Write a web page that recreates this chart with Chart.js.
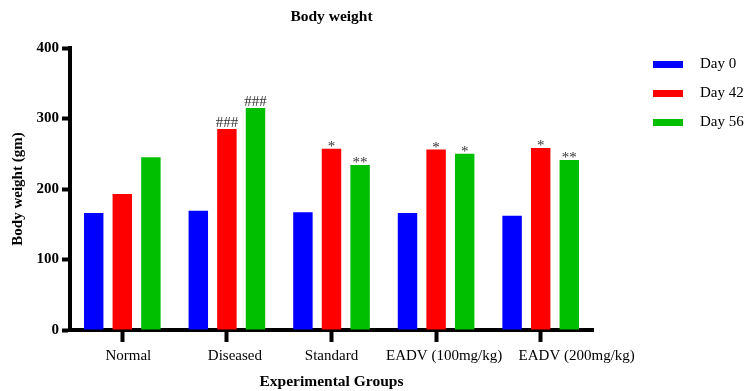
<!DOCTYPE html>
<html>
<head>
<meta charset="utf-8">
<script src="https://cdn.jsdelivr.net/npm/chart.js@4.4.1/dist/chart.umd.min.js"></script>
<style>
  html, body { margin: 0; padding: 0; background: #fff; }
  #wrap { width: 745px; height: 391px; position: relative; }
</style>
</head>
<body>
<div id="wrap"><canvas id="bwChart"></canvas></div>
<script>
// data
const groups = ["Normal", "Diseased", "Standard", "EADV (100mg/kg)", "EADV (200mg/kg)"];
const seriesNames = ["Day 0", "Day 42", "Day 56"];
const day0 = [166, 169, 167, 166, 162];
const day42 = [193, 285, 257, 256, 258];
const day56 = [245, 315, 234, 250, 241];
const yTicks = [0, 100, 200, 300, 400];
// significance marks, per series, per group
const marks = [
  ["", "", "", "", ""],
  ["", "###", "*", "*", "*"],
  ["", "###", "**", "*", "**"],
];
const colors = ["#0000ff", "#ff0000", "#00bf00"];

const serif = "'Liberation Serif', 'Times New Roman', serif";
// the original's group labels are not quite centred under their ticks
const labelShift = [6, 8, 0, 8, 36];

// title over the plot area
const titlePlugin = {
  id: "plotTitle",
  afterDraw(chart) {
    const { ctx, chartArea } = chart;
    ctx.save();
    ctx.font = "bold 15.5px " + serif;
    ctx.fillStyle = "#000";
    ctx.textAlign = "center";
    ctx.textBaseline = "middle";
    ctx.fillText("Body weight", (chartArea.left + chartArea.right) / 2, 17);
    ctx.restore();
  },
};

// legend on the right, line swatches
const legendPlugin = {
  id: "sideLegend",
  afterDraw(chart) {
    const { ctx } = chart;
    ctx.save();
    ctx.font = "15px " + serif;
    ctx.textBaseline = "middle";
    chart.data.datasets.forEach((ds, i) => {
      const y = 64 + i * 29;
      ctx.fillStyle = ds.backgroundColor;
      ctx.fillRect(653, y - 3, 30, 7);
      ctx.fillStyle = "#000";
      ctx.textAlign = "left";
      ctx.fillText(ds.label, 700, y);
    });
    ctx.restore();
  },
};

// group labels under the x ticks
const xLabelPlugin = {
  id: "xLabels",
  afterDraw(chart) {
    const { ctx } = chart;
    const xs = chart.scales.x;
    ctx.save();
    ctx.font = "15px " + serif;
    ctx.fillStyle = "#000";
    ctx.textAlign = "center";
    ctx.textBaseline = "middle";
    groups.forEach((g, i) => {
      ctx.fillText(g, xs.getPixelForTick(i) + labelShift[i], 356);
    });
    ctx.restore();
  },
};

// ### / * marks above bars
const marksPlugin = {
  id: "sigMarks",
  afterDatasetsDraw(chart) {
    const { ctx } = chart;
    ctx.save();
    ctx.font = "15px " + serif;
    ctx.fillStyle = "#333";
    ctx.textAlign = "center";
    ctx.textBaseline = "alphabetic";
    chart.data.datasets.forEach((ds, i) => {
      const meta = chart.getDatasetMeta(i);
      meta.data.forEach((bar, j) => {
        const txt = marks[i][j];
        if (!txt) return;
        const dy = txt.startsWith("#") ? -2 : 2;
        ctx.fillText(txt, bar.x, bar.y + dy);
      });
    });
    ctx.restore();
  },
};

const seriesData = [day0, day42, day56];

new Chart(document.getElementById("bwChart"), {
  type: "bar",
  data: {
    labels: groups,
    datasets: seriesNames.map((name, i) => ({
      label: name,
      data: seriesData[i],
      backgroundColor: colors[i],
      borderWidth: 0,
      categoryPercentage: 0.82,
      barPercentage: 0.68,
    })),
  },
  options: {
    responsive: true,
    maintainAspectRatio: false,
    animation: { duration: 0 },
    layout: { padding: { top: 48, right: 152, bottom: 0, left: 0 } },
    plugins: {
      legend: { display: false },
      title: { display: false },
      tooltip: { enabled: false },
    },
    scales: {
      x: {
        afterFit(scale) { scale.height = 61; },
        grid: {
          offset: false,
          drawOnChartArea: false,
          color: "#000",
          tickLength: 12,
          tickWidth: 4,
        },
        border: { display: true, color: "#000", width: 4 },
        ticks: {
          color: "rgba(0,0,0,0)",
          font: { family: serif, size: 15 },
          padding: 6,
          maxRotation: 0,
          autoSkip: false,
        },
        title: {
          display: true,
          text: "Experimental Groups",
          color: "#000",
          font: { family: serif, size: 15.5, weight: "bold" },
          padding: { top: 0, bottom: 0 },
        },
      },
      y: {
        min: 0,
        max: 400,
        afterFit(scale) { scale.width = 70; },
        afterBuildTicks(scale) { scale.ticks = yTicks.map((v) => ({ value: v })); },
        grid: {
          drawOnChartArea: false,
          color: "#000",
          tickLength: 8,
          tickWidth: 4,
        },
        border: { display: true, color: "#000", width: 4 },
        ticks: {
          color: "#000",
          font: { family: serif, size: 15, weight: "bold" },
          padding: 3,
        },
        title: {
          display: true,
          text: "Body weight (gm)",
          color: "#000",
          font: { family: serif, size: 15, weight: "bold" },
          padding: { top: 9, bottom: 0 },
        },
      },
    },
  },
  plugins: [titlePlugin, legendPlugin, xLabelPlugin, marksPlugin],
});
</script>
</body>
</html>
